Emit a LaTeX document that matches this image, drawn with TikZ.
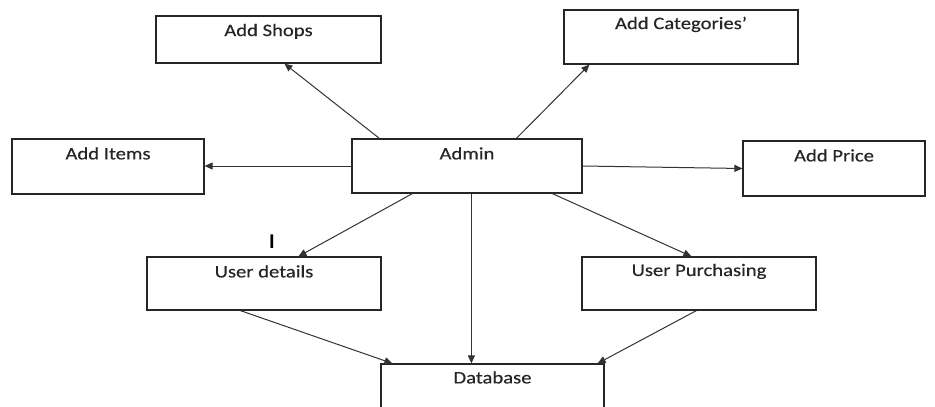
\documentclass[tikz,border=0pt]{standalone}
\usepackage{fontspec}
\setmainfont{Carlito}[FakeStretch=1.18, FakeBold=0.35]
\newfontfamily\cursorfont{Carlito}[FakeStretch=1.0]
\usetikzlibrary{arrows.meta}
\begin{document}
\begin{tikzpicture}[x=1pt,y=-1pt,
  box/.style={draw=black!85, line width=1.2pt, inner sep=0pt, rectangle},
  lbl/.style={anchor=center, font=\fontsize{17.5}{20}\selectfont, text=black!85},
  conn/.style={draw=black!80, line width=1pt, -{Triangle[length=8pt,width=7pt]}}]
\useasboundingbox (0,0) rectangle (935,407);
\clip (0,0) rectangle (935,407);
\fill[white] (0,0) rectangle (935,407);
\node[box, minimum width=225pt, minimum height=47pt, label={[lbl, yshift=-16pt]north:Add Shops}] (shops) at (268.5,39.5) {};
\node[box, minimum width=234pt, minimum height=54pt, label={[lbl, yshift=-15pt]north:Add Categories’}] (cats) at (681,37) {};
\node[box, minimum width=192pt, minimum height=55pt, label={[lbl, yshift=-15pt]north:Add Items}] (items) at (108,166.5) {};
\node[box, minimum width=230pt, minimum height=54pt, label={[lbl, yshift=-15pt]north:Admin}] (admin) at (467,166) {};
\node[box, minimum width=182pt, minimum height=55pt, label={[lbl, yshift=-15pt]north:Add Price}] (price) at (834,168.5) {};
\node[box, minimum width=234pt, minimum height=53pt, label={[lbl, yshift=-15pt]north:User details}] (userd) at (264,283.5) {};
\node[box, minimum width=234pt, minimum height=53pt, label={[lbl, yshift=-15pt]north:User Purchasing}] (userp) at (699,283.5) {};
\node[box, minimum width=223pt, minimum height=66pt, label={[lbl, yshift=-14pt]north:Database}] (db) at (492.5,397) {};
\node[font=\cursorfont\bfseries\fontsize{21}{23}\selectfont, inner sep=0pt] (cursor) at (272,241.5) {I};
\draw[conn] ([xshift=28pt]admin.north west) -- ([xshift=129pt]shops.south west);
\draw[conn] ([xshift=165pt]admin.north west) -- ([xshift=26pt]cats.south west);
\draw[conn] (admin.west) -- (admin.west -| items.east);
\draw[conn] (admin.east) -- (price.west);
\draw[conn] ([xshift=61pt]admin.south west) -- ([xshift=152pt]userd.north west);
\draw[conn] ([xshift=120pt]admin.south west) -- ([xshift=91pt]db.north west);
\draw[conn] ([xshift=201pt]admin.south west) -- ([xshift=110pt]userp.north west);
\draw[conn] ([xshift=94pt]userd.south west) -- ([xshift=12pt]db.north west);
\draw[conn] ([xshift=115pt]userp.south west) -- ([xshift=-7pt]db.north east);
\end{tikzpicture}
\end{document}
